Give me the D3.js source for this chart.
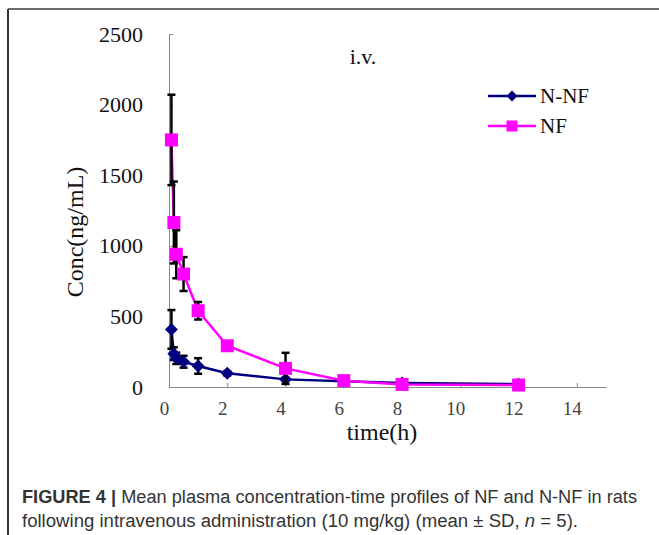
<!DOCTYPE html>
<html><head><meta charset="utf-8">
<script src="https://cdn.jsdelivr.net/npm/d3@7"></script>
<style>body{margin:0;background:#fff}svg{display:block}</style>
</head><body>
<script>
const times = [0.083, 0.167, 0.25, 0.5, 1, 2, 4, 6, 8, 12];
const nfMean = [1750, 1165, 940, 800, 540, 292, 132, 45, 18, 14];
const nfSD = [320, 290, 170, 120, 62, 20, 110, 10, 8, 5];
const nnfMean = [408, 236, 203, 179, 149, 97, 54, 40, 28, 20];
const nnfSD = [137, 45, 40, 42, 55, 15, 10, 8, 6, 5];
const xTicks = [0, 2, 4, 6, 8, 10, 12, 14];
const yTicks = [0, 500, 1000, 1500, 2000, 2500];
const seriesNames = ["N-NF", "NF"];

const W = 659, H = 535;
const svg = d3.select("body").append("svg").attr("width", W).attr("height", H);

// frame
svg.append("line").attr("x1", 8).attr("x2", W).attr("y1", 9).attr("y2", 9).attr("stroke", "#6e6e6e").attr("stroke-width", 2);
svg.append("line").attr("x1", 8).attr("x2", 8).attr("y1", 9).attr("y2", H).attr("stroke", "#333").attr("stroke-width", 2);

const x = d3.scaleLinear().domain([0, 15]).range([169, 606]);
const y = d3.scaleLinear().domain([0, 2500]).range([387, 34]);
const serif = "'Liberation Serif','Times New Roman',serif";

// axes
const xAxis = svg.append("g").attr("transform", "translate(0,387)")
  .call(d3.axisBottom(x).tickValues(xTicks).tickFormat(d3.format("d")).tickSize(-4).tickSizeOuter(0).tickPadding(9));
xAxis.attr("font-family", null);
xAxis.select(".domain").attr("stroke", "#8a8a8a");
xAxis.selectAll(".tick line").attr("stroke", "#8a8a8a");
xAxis.selectAll("text").style("font-family", serif).style("font-size", "19px").attr("fill", "#444").attr("dx", -5).attr("dy", "1.0em");

const yAxis = svg.append("g").attr("transform", "translate(169,0)")
  .call(d3.axisLeft(y).tickValues(yTicks).tickFormat(d3.format("d")).tickSize(-4).tickSizeOuter(0).tickPadding(26));
yAxis.attr("font-family", null);
yAxis.select(".domain").attr("stroke", "#8a8a8a");
yAxis.selectAll(".tick line").attr("stroke", "#8a8a8a");
yAxis.selectAll("text").style("font-family", serif).style("font-size", "22px").attr("fill", "#111");

// titles
svg.append("text").attr("x", 382).attr("y", 440).attr("text-anchor", "middle")
  .style("font-family", serif).style("font-size", "24px").attr("fill", "#111").text("time(h)");
svg.append("text").attr("transform", "translate(83,232) rotate(-90)").attr("text-anchor", "middle")
  .style("font-family", serif).style("font-size", "24px").attr("fill", "#111").text("Conc(ng/mL)");
svg.append("text").attr("x", 363).attr("y", 64).attr("text-anchor", "middle")
  .style("font-family", serif).style("font-size", "22px").attr("fill", "#111").text("i.v.");

const series = [
  {name: seriesNames[0], mean: nnfMean, sd: nnfSD, color: "#000080", shape: "diamond"},
  {name: seriesNames[1], mean: nfMean, sd: nfSD, color: "#ff00ff", shape: "square"}
];

const line = d3.line().x(d => x(d[0])).y(d => y(d[1]));

series.forEach(s => {
  const pts = times.map((t, i) => [t, s.mean[i], s.sd[i]]);
  const g = svg.append("g");
  g.append("path").datum(pts).attr("d", line).attr("fill", "none").attr("stroke", s.color).attr("stroke-width", 2.5);
  const eb = g.append("g").attr("stroke", "#000").attr("stroke-width", 2.5);
  pts.forEach(p => {
    const cx = x(p[0]), yt = y(p[1] + p[2]), yb = y(Math.max(0, p[1] - p[2]));
    eb.append("line").attr("x1", cx).attr("x2", cx).attr("y1", yt).attr("y2", yb);
    eb.append("line").attr("x1", cx - 4).attr("x2", cx + 4).attr("y1", yt).attr("y2", yt);
    eb.append("line").attr("x1", cx - 4).attr("x2", cx + 4).attr("y1", yb).attr("y2", yb);
  });
  pts.forEach(p => {
    if (s.shape === "square") {
      g.append("rect").attr("x", x(p[0]) - 6.5).attr("y", y(p[1]) - 6.5).attr("width", 13).attr("height", 13).attr("fill", s.color);
    } else {
      g.append("path").attr("d", d3.symbol().type(d3.symbolSquare).size(84)())
        .attr("transform", `translate(${x(p[0])},${y(p[1])}) rotate(45)`).attr("fill", s.color);
    }
  });
});

// legend
series.forEach((s, i) => {
  const ly = 96 + i * 30;
  const g = svg.append("g");
  g.append("line").attr("x1", 488).attr("x2", 536).attr("y1", ly).attr("y2", ly).attr("stroke", s.color).attr("stroke-width", 2.5);
  if (s.shape === "square") {
    g.append("rect").attr("x", 512 - 5.5).attr("y", ly - 5.5).attr("width", 11).attr("height", 11).attr("fill", s.color);
  } else {
    g.append("path").attr("d", d3.symbol().type(d3.symbolSquare).size(60)())
      .attr("transform", `translate(512,${ly}) rotate(45)`).attr("fill", s.color);
  }
  g.append("text").attr("x", 540).attr("y", ly + 7).style("font-family", serif).style("font-size", "21px").attr("fill", "#111").text(s.name);
});

// caption
const sans = "'Liberation Sans','Helvetica Neue',Arial,sans-serif";
const c1 = svg.append("text").attr("x", 22).attr("y", 503).style("font-family", sans).style("font-size", "18px").attr("fill", "#333")
  .attr("textLength", 615).attr("lengthAdjust", "spacingAndGlyphs");
c1.append("tspan").attr("font-weight", "bold").text("FIGURE 4 | ");
c1.append("tspan").text("Mean plasma concentration-time profiles of NF and N-NF in rats");
const c2 = svg.append("text").attr("x", 22).attr("y", 527).style("font-family", sans).style("font-size", "18px").attr("fill", "#333")
  .attr("textLength", 556).attr("lengthAdjust", "spacingAndGlyphs");
c2.append("tspan").text("following intravenous administration (10 mg/kg) (mean \u00b1 SD, ");
c2.append("tspan").attr("font-style", "italic").text("n");
c2.append("tspan").text(" = 5).");
</script>
</body></html>
